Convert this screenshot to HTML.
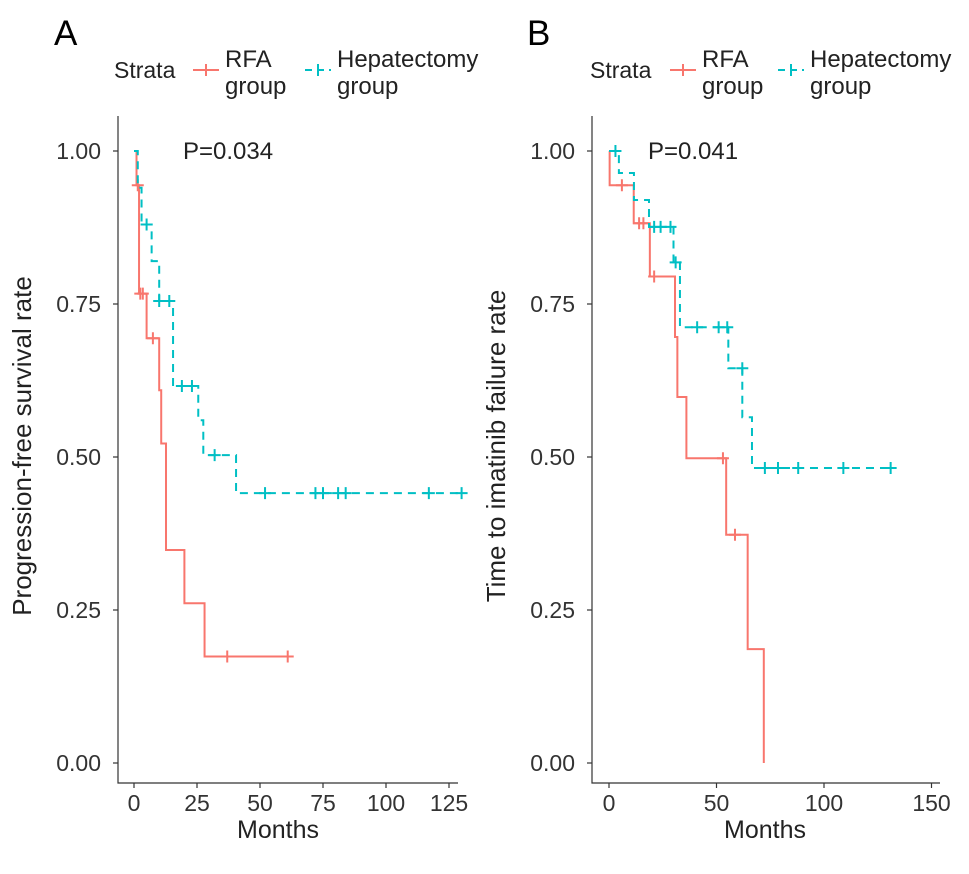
<!DOCTYPE html>
<html><head><meta charset="utf-8"><style>
html,body{margin:0;padding:0;background:#fff}
svg{display:block;font-family:"Liberation Sans",Arial,sans-serif}
</style></head><body>
<svg id="chart" width="969" height="874" viewBox="0 0 969 874"></svg>
<script>
const RED = "#F8766D", TEAL = "#00BFC4";
// Panel A data (time, survival)
const aRfaTimes = [0, 1, 2, 5, 10, 10.8, 12.7, 20, 28, 61];
const aRfaSurv  = [1.0, 0.944, 0.767, 0.694, 0.609, 0.522, 0.348, 0.261, 0.174, 0.174];
const aRfaCensT = [1.5, 2.5, 3.5, 7.5, 37, 61];
const aRfaCensS = [0.944, 0.767, 0.767, 0.694, 0.174, 0.174];
const aHepTimes = [0, 1.5, 3, 7, 10, 15.5, 25.5, 27.5, 40.5, 131];
const aHepSurv  = [1.0, 0.94, 0.88, 0.82, 0.755, 0.616, 0.56, 0.503, 0.441, 0.441];
const aHepCensT = [5, 10, 14, 19, 23, 32, 52, 72, 75, 81, 84, 117, 130];
const aHepCensS = [0.88, 0.755, 0.755, 0.616, 0.616, 0.503, 0.441, 0.441, 0.441, 0.441, 0.441, 0.441, 0.441];
// Panel B data
const bRfaTimes = [0, 0.3, 11.5, 19, 30.7, 31.8, 36, 54.5, 64.5, 72, 72];
const bRfaSurv  = [1.0, 0.944, 0.882, 0.795, 0.696, 0.598, 0.498, 0.373, 0.186, 0.0, 0.0];
const bRfaCensT = [6, 14, 16, 21, 53, 58.6];
const bRfaCensS = [0.944, 0.882, 0.882, 0.795, 0.498, 0.373];
const bHepTimes = [0, 4.6, 11.6, 18.6, 30, 33, 55.5, 62, 66.5, 132];
const bHepSurv  = [1.0, 0.964, 0.92, 0.876, 0.818, 0.712, 0.645, 0.565, 0.482, 0.482];
const bHepCensT = [3, 21, 24, 28.6, 31, 41, 51, 55, 62, 72.5, 78.6, 88, 109, 131];
const bHepCensS = [1.0, 0.876, 0.876, 0.876, 0.818, 0.712, 0.712, 0.712, 0.645, 0.482, 0.482, 0.482, 0.482, 0.482];
const yTicks = [0, 0.25, 0.5, 0.75, 1.0];
const yTickLabels = ["0.00", "0.25", "0.50", "0.75", "1.00"];
const aXTicks = [0, 25, 50, 75, 100, 125];
const bXTicks = [0, 50, 100, 150];

const NS = "http://www.w3.org/2000/svg";
const svg = document.getElementById("chart");
function mk(tag, attrs, parent, txt){
  const e = document.createElementNS(NS, tag);
  for (const k in attrs) e.setAttribute(k, attrs[k]);
  if (txt !== undefined) e.textContent = txt;
  (parent || svg).appendChild(e);
  return e;
}
const y = v => 763 - 612 * v;

function panel(p){
  const g = mk("g", {});
  
  
  const x = t => p.x0 + p.sx * t;
  const L = mk("text", {x: p.letterX, y: 45, "font-size": 35, fill: "#000"}, g, p.letter);
  
  
  const lg = mk("g", {}, g);
  
  
  const st = mk("text", {x: p.legX, y: 78, "font-size": 23, fill: "#222"}, lg, "Strata");
  
  
  const entries = [[p.redKeyX, RED, "RFA", false], [p.tealKeyX, TEAL, "Hepatectomy", true]];
  entries.forEach(en => {
    const eg = mk("g", {}, lg);
    
    
    mk("line", {x1: en[0], y1: 70, x2: en[0] + 26, y2: 70, stroke: en[1], "stroke-width": 2, "stroke-dasharray": en[3] ? "7,5" : "none"}, eg);
    mk("line", {x1: en[0] + 13, y1: 64, x2: en[0] + 13, y2: 76, stroke: en[1], "stroke-width": 2}, eg);
    mk("text", {x: en[0] + 32, y: 67, "font-size": 24, fill: "#222"}, eg, en[2]);
    mk("text", {x: en[0] + 32, y: 94, "font-size": 24, fill: "#222"}, eg, "group");
  });
  const ax = mk("path", {d: `M${p.axX},116 V783 H${p.axEnd}`, fill: "none", stroke: "#333", "stroke-width": 1.2}, g);
  
  
  yTicks.forEach((v, i) => {
    mk("line", {x1: p.axX - 5, y1: y(v), x2: p.axX, y2: y(v), stroke: "#333", "stroke-width": 1.2}, g);
    const t = mk("text", {x: p.axX - 17, y: y(v) + 8, "font-size": 23, "text-anchor": "end", fill: "#333"}, g, yTickLabels[i]);
    
    
  });
  p.xTicks.forEach(v => {
    mk("line", {x1: x(v), y1: 783, x2: x(v), y2: 788, stroke: "#333", "stroke-width": 1.2}, g);
    const t = mk("text", {x: x(v), y: 811, "font-size": 23, "text-anchor": "middle", fill: "#333"}, g, String(v));
    
    
  });
  const xt = mk("text", {x: p.xTitleX, y: 838, "font-size": 25, "text-anchor": "middle", fill: "#222"}, g, "Months");
  
  
  const yt = mk("text", {x: 0, y: 0, "font-size": 26, "text-anchor": "middle", fill: "#222", transform: `translate(${p.yTitleX},446) rotate(-90)`}, g, p.yTitle);
  
  
  const pv = mk("text", {x: p.pX, y: 159, "font-size": 24, fill: "#222"}, g, p.pText);
  
  
  function series(times, surv, cT, cS, color, dashed, name){
    const sg = mk("g", {}, g);
    
    
    let d = `M${x(times[0])},${y(surv[0])}`;
    for (let i = 1; i < times.length; i++){
      d += ` H${x(times[i])} V${y(surv[i])}`;
    }
    const path = mk("path", {d: d, fill: "none", stroke: color, "stroke-width": 2, "stroke-dasharray": dashed ? "8,6" : "none"}, sg);
    
    
    cT.forEach((t, i) => {
      const c = mk("path", {d: `M${x(t) - 6},${y(cS[i])} H${x(t) + 6} M${x(t)},${y(cS[i]) - 6} V${y(cS[i]) + 6}`, stroke: color, "stroke-width": 2}, sg);
      
      
    });
  }
  series(p.rT, p.rS, p.rcT, p.rcS, RED, false, p.id + '-rfa-series');
  series(p.hT, p.hS, p.hcT, p.hcS, TEAL, true, p.id + '-hepatectomy-series');
}

panel({id: "panel-a", letter: "A", letterX: 54, legX: 114, redKeyX: 193, tealKeyX: 305,
  axX: 118, axEnd: 458, x0: 134, sx: 2.52, xTicks: aXTicks, xTitleX: 278, yTitleX: 31,
  yTitle: "Progression-free survival rate", pX: 183, pText: "P=0.034",
  rT: aRfaTimes, rS: aRfaSurv, rcT: aRfaCensT, rcS: aRfaCensS,
  hT: aHepTimes, hS: aHepSurv, hcT: aHepCensT, hcS: aHepCensS});
panel({id: "panel-b", letter: "B", letterX: 527, legX: 590, redKeyX: 670, tealKeyX: 778,
  axX: 592, axEnd: 940, x0: 609, sx: 2.15, xTicks: bXTicks, xTitleX: 765, yTitleX: 505,
  yTitle: "Time to imatinib failure rate", pX: 648, pText: "P=0.041",
  rT: bRfaTimes, rS: bRfaSurv, rcT: bRfaCensT, rcS: bRfaCensS,
  hT: bHepTimes, hS: bHepSurv, hcT: bHepCensT, hcS: bHepCensS});
</script>
</body></html>
